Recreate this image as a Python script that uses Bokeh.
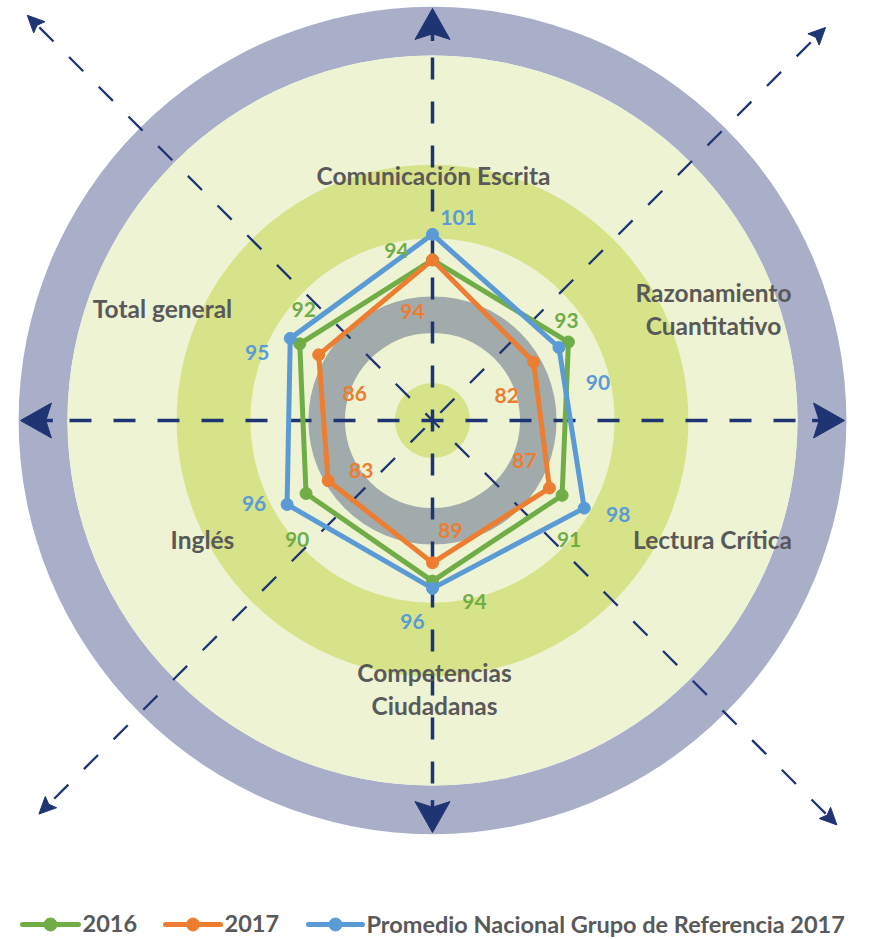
import numpy as np
from bokeh.plotting import figure
from bokeh.core.properties import value
from bokeh.embed import file_html
from bokeh.resources import INLINE

# ---------------- data ----------------
categories = ["Comunicación Escrita", "Razonamiento Cuantitativo", "Lectura Crítica",
              "Competencias Ciudadanas", "Inglés", "Total general"]
category_lines = [["Comunicación Escrita"], ["Razonamiento", "Cuantitativo"], ["Lectura Crítica"],
                  ["Competencias", "Ciudadanas"], ["Inglés"], ["Total general"]]
axis_angles = [90, 30, -30, -90, -150, 150]
series_names = ["2016", "2017", "Promedio Nacional Grupo de Referencia 2017"]
values_2016 = [94, 93, 91, 94, 90, 92]
values_2017 = [94, 82, 87, 89, 83, 86]
values_promedio = [101, 90, 98, 96, 96, 95]
series_values = [values_2016, values_2017, values_promedio]

# ---------------- styles / layout ----------------
colors = ["#70AD47", "#ED7D31", "#5B9BD5"]
NAVY = "#1F3573"
TEXT_GRAY = "#595959"
RMIN = 50            # radial axis minimum
PX = 3.65            # pixels per radial unit
CX, CY = 432, 420    # pixel position of the chart centre
W, H = 870, 939

def d(px, py):
    return ((px - CX) / PX, (CY - py) / PX)

def stealth_head(angle_deg, tip_r, length_px, width_px, notch=0.82):
    t = np.deg2rad(angle_deg)
    ux, uy = np.cos(t), np.sin(t)
    nx, ny = -uy, ux
    L, Wd = length_px / PX, width_px / PX
    tipx, tipy = tip_r * ux, tip_r * uy
    bx, by = tipx - L * ux, tipy - L * uy
    qx, qy = tipx - notch * L * ux, tipy - notch * L * uy
    xs = [tipx, bx + Wd / 2 * nx, qx, bx - Wd / 2 * nx]
    ys = [tipy, by + Wd / 2 * ny, qy, by - Wd / 2 * ny]
    return xs, ys

p = figure(width=W, height=H, output_backend="svg", toolbar_location=None,
           x_range=(-CX / PX, (W - CX) / PX),
           y_range=((CY - H) / PX, CY / PX),
           min_border=0, outline_line_color=None, background_fill_color="white",
           border_fill_color="white")
p.axis.visible = False
p.grid.visible = False

# ---------------- background rings ----------------
p.annulus(x=0, y=0, inner_radius=100, outer_radius=113.4, fill_color="#A9AFC9", line_color=None)
p.circle(x=0, y=0, radius=100, fill_color="#EDF3D3", line_color=None)
p.annulus(x=0, y=0, inner_radius=49.9, outer_radius=70.1, fill_color="#D7E389", line_color=None)
p.annulus(x=0, y=0, inner_radius=24.0, outer_radius=34.0, fill_color="#A1ABAB", line_color=None)
p.circle(x=0, y=0, radius=10.3, fill_color="#D7E389", line_color=None)

# ---------------- dashed guide lines with arrow heads ----------------
head_xs, head_ys = [], []
main_dirs = [0, 90, 180, 270]
for a in main_dirs:
    t = np.deg2rad(a)
    p.line([0, 105 * np.cos(t)], [0, 105 * np.sin(t)], line_color=NAVY, line_width=3.5,
           line_dash="22 22", line_dash_offset=11)
    p.line([104 * np.cos(t), 108 * np.cos(t)], [104 * np.sin(t), 108 * np.sin(t)],
           line_color=NAVY, line_width=3.5)
    hx, hy = stealth_head(a, 112.9, 31, 35)
    head_xs.append(hx); head_ys.append(hy)

diag_dirs = [135, 45, 225, -45]
diag_len = [157.0, 152.3, 152.5, 156.7]
diag_offsets = [10, 31, 31, 10]
for a, L, off in zip(diag_dirs, diag_len, diag_offsets):
    t = np.deg2rad(a)
    p.line([0, (L - 3) * np.cos(t)], [0, (L - 3) * np.sin(t)], line_color=NAVY, line_width=2.3,
           line_dash="20 22", line_dash_offset=off)
    hx, hy = stealth_head(a, L, 17, 16)
    head_xs.append(hx); head_ys.append(hy)

p.patches(head_xs, head_ys, fill_color=NAVY, line_color=NAVY, line_width=1)

# ---------------- radar series ----------------
ang = np.deg2rad(np.array(axis_angles))
for vals, col in zip(series_values, colors):
    r = np.array(vals, dtype=float) - RMIN
    xs = r * np.cos(ang)
    ys = r * np.sin(ang)
    p.line(list(xs) + [xs[0]], list(ys) + [ys[0]], line_color=col, line_width=5,
           line_join="round")
    p.scatter(xs, ys, size=12, fill_color=col, line_color=col, marker="circle")

# value labels: offsets in screen px (right, down) from each point
label_offsets = [
    [(-36, -9), (-2, -22), (7, 44), (42, 20), (-9, 46), (4, -34)],      # 2016
    [(-20, 52), (-27, 33), (-25, -28), (18, -32), (33, -10), (36, 39)],  # 2017
    [(26, -17), (39, 35), (34, 6), (-20, 33), (-33, -1), (-33, 14)],     # Promedio
]
for vals, col, offs in zip(series_values, colors, label_offsets):
    r = np.array(vals, dtype=float) - RMIN
    xs = r * np.cos(ang) + np.array([o[0] for o in offs]) / PX
    ys = r * np.sin(ang) - np.array([o[1] for o in offs]) / PX
    p.text(xs, ys, text=[str(v) for v in vals], text_color=col,
           text_font=value("Lato"), text_font_style="bold", text_font_size="21px",
           text_align="center", text_baseline="middle")

# ---------------- category labels ----------------
cat_pos = [(433, 175), (713, 292), (712, 539), (434, 672), (202, 539), (162, 308)]
LINE_GAP = 33
tx, ty, tt = [], [], []
for lines, (px, py) in zip(category_lines, cat_pos):
    for i, ln in enumerate(lines):
        x, y = d(px, py + i * LINE_GAP)
        tx.append(x); ty.append(y); tt.append(ln)
p.text(tx, ty, text=tt, text_color=TEXT_GRAY, text_font=value("Lato"),
       text_font_style="bold", text_font_size="24.5px", text_align="center",
       text_baseline="middle")

# ---------------- legend ----------------
leg_y = 924
leg_line = [(22, 78), (165, 220), (308, 362)]
for name, col, (x0, x1) in zip(series_names, colors, leg_line):
    ax, ay = d(x0, leg_y)
    bx, _ = d(x1, leg_y)
    p.line([ax, bx], [ay, ay], line_color=col, line_width=5, line_cap="round")
    mx, _ = d((x0 + x1) / 2, leg_y)
    p.scatter([mx], [ay], size=13, fill_color=col, line_color=col, marker="circle")
    tx0, ty0 = d(x1 + 4, leg_y - 1)
    p.text([tx0], [ty0], text=[name], text_color=TEXT_GRAY, text_font=value("Lato"),
           text_font_style="bold", text_font_size="23.5px", text_align="left",
           text_baseline="middle")

open("out.html", "w").write(file_html(p, INLINE))
